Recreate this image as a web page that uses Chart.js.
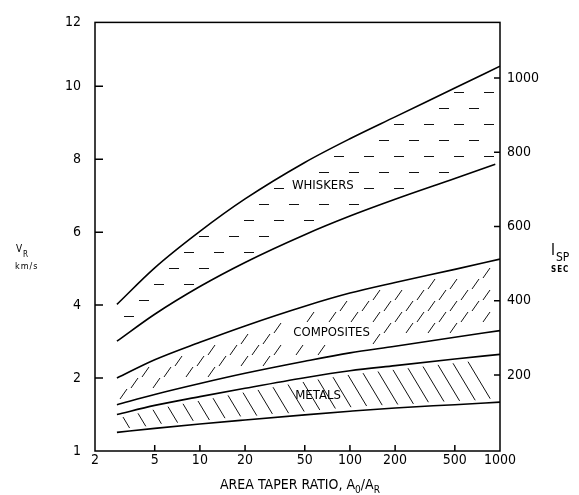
<!DOCTYPE html>
<html>
<head>
<meta charset="utf-8">
<script src="https://cdn.jsdelivr.net/npm/chart.js@4.4.1/dist/chart.umd.min.js"></script>
<style>
  html, body { margin: 0; padding: 0; background: #fff; }
  #wrap { width: 579px; height: 495px; }
</style>
</head>
<body>
<div id="wrap"><canvas id="taper" width="579" height="495"></canvas></div>
<script>
// area taper ratio A0/AR where the band edges were read
const taperRatio = [2.8, 5, 10, 20, 50, 100, 200, 500, 1000];
const whiskersRatio = [2.8, 5, 10, 20, 50, 100, 200, 500, 930]; // lower whisker edge stops short

// V_R in km/s
const whiskersTop = [4.02, 5.02, 6.02, 6.91, 7.91, 8.56, 9.16, 9.95, 10.55];
const whiskersBottom = [3.01, 3.75, 4.51, 5.17, 5.93, 6.44, 6.90, 7.47, 7.86];
const compositesTop = [2.00, 2.50, 2.98, 3.43, 3.97, 4.33, 4.62, 4.98, 5.26];
const compositesBottom = [1.27, 1.55, 1.85, 2.13, 2.46, 2.69, 2.87, 3.12, 3.30];
const metalsTop = [1.00, 1.25, 1.49, 1.72, 2.01, 2.20, 2.34, 2.52, 2.65];
const metalsBottom = [0.51, 0.62, 0.74, 0.85, 0.99, 1.09, 1.18, 1.27, 1.34];

// band names and where they are written (ratio, km/s)
const bandNames = ["WHISKERS", "COMPOSITES", "METALS"];
const bandLabelAt = [[66, 7.27], [75.5, 3.24], [61.3, 1.52]];

// axes
const xTicks = [2, 5, 10, 20, 50, 100, 200, 500, 1000];
const vTicks = [2, 4, 6, 8, 10];
const vRange = [0, 11.75];
const vEndLabels = ["1", "12"];
const ispTicks = [200, 400, 600, 800, 1000];
const ispRange = [-5, 1150];

const FONT = '"Liberation Sans Narrow", "DejaVu Sans Condensed", "Liberation Sans", sans-serif';
const tickFont = { family: FONT, size: 14 };

// =======================
// HELPERS
// =======================
const edgeSet = (label, xs, ys) => ({
  label,
  data: xs.map((x, i) => ({ x, y: ys[i] })),
  borderColor: "#000",
  borderWidth: 1.6,
  pointRadius: 0,
  cubicInterpolationMode: "monotone",
  fill: false,
  yAxisID: "y"
});

function edgeY(chart, index, px) {
  const p = chart.getDatasetMeta(index).dataset.interpolate({ x: px }, "x");
  return p && !Array.isArray(p) ? p.y : null;
}

function inBox(box, x, y) {
  return x > box.l && x < box.r && y > box.t && y < box.b;
}

function labelBoxes(chart) {
  const ctx = chart.ctx;
  ctx.save();
  ctx.font = "13px " + FONT;
  const boxes = bandNames.map((name, i) => {
    const cx = chart.scales.x.getPixelForValue(bandLabelAt[i][0]);
    const cy = chart.scales.y.getPixelForValue(bandLabelAt[i][1]);
    const w = ctx.measureText(name).width;
    return { l: cx - w / 2 - 7, r: cx + w / 2 + 7, t: cy - 9, b: cy + 9, cx, cy };
  });
  ctx.restore();
  return boxes;
}

// =======================
// PLUGINS
// =======================
const hatchPlugin = {
  id: "hatch",
  afterDatasetsDraw(chart) {
    const ctx = chart.ctx;
    const boxes = labelBoxes(chart);
    ctx.save();
    ctx.strokeStyle = "#111";
    ctx.lineWidth = 1;
    ctx.beginPath();

    // whiskers: short horizontal dashes
    let row = 0;
    for (let py = 60.5; py < 350; py += 16, row++) {
      for (let px = 124 + (row % 2) * 15; px < 492; px += 30) {
        const len = 10;
        const e = [edgeY(chart, 0, px), edgeY(chart, 0, px + len), edgeY(chart, 1, px), edgeY(chart, 1, px + len)];
        if (e.some(v => v == null)) continue;
        if (py < Math.max(e[0], e[1]) + 4 || py > Math.min(e[2], e[3]) - 4) continue;
        if (inBox(boxes[0], px, py) || inBox(boxes[0], px + len, py)) continue;
        ctx.moveTo(px, py);
        ctx.lineTo(px + len, py);
      }
    }

    // composites: short "/" strokes
    row = 0;
    for (let py = 240; py < 410; py += 11, row++) {
      for (let px = 120 + (row % 2) * 11; px < 495; px += 22) {
        const x0 = px, y0 = py + 5, x1 = px + 7, y1 = py - 5;
        const t0 = edgeY(chart, 2, x0), t1 = edgeY(chart, 2, x1);
        const b0 = edgeY(chart, 3, x0), b1 = edgeY(chart, 3, x1);
        if ([t0, t1, b0, b1].some(v => v == null)) continue;
        if (y1 < t1 + 3 || y0 > b0 - 3) continue;
        if (inBox(boxes[1], x0, y0) || inBox(boxes[1], x1, y1)) continue;
        ctx.moveTo(x0, y0);
        ctx.lineTo(x1, y1);
      }
    }

    // metals: "\" strokes across the band
    for (let px = 123; px < 495; px += 15) {
      const top = edgeY(chart, 4, px);
      if (top == null) continue;
      const y0 = top + 4;
      let dy = 8;
      // grow the stroke until it reaches the lower edge
      while (true) {
        const b = edgeY(chart, 5, px + dy * 0.6);
        if (b == null || y0 + dy + 1 > b - 3) break;
        dy += 1;
      }
      const x1 = px + dy * 0.6;
      if (x1 > 498) continue;
      if (inBox(boxes[2], px, y0) || inBox(boxes[2], x1, y0 + dy)) continue;
      ctx.moveTo(px, y0);
      ctx.lineTo(x1, y0 + dy);
    }
    ctx.stroke();
    ctx.restore();
  }
};

const framePlugin = {
  id: "frame",
  afterDraw(chart) {
    const ctx = chart.ctx;
    const a = chart.chartArea;
    const { x, y, y2 } = chart.scales;
    ctx.save();
    ctx.strokeStyle = "#000";
    ctx.lineWidth = 1.5;
    ctx.strokeRect(a.left, a.top, a.right - a.left, a.bottom - a.top);

    // inward tick marks
    ctx.beginPath();
    xTicks.slice(1, -1).forEach(v => {
      const px = x.getPixelForValue(v);
      ctx.moveTo(px, a.bottom);
      ctx.lineTo(px, a.bottom - 6);
    });
    vTicks.forEach(v => {
      const py = y.getPixelForValue(v);
      ctx.moveTo(a.left, py);
      ctx.lineTo(a.left + 8, py);
    });
    ispTicks.forEach(v => {
      const py = y2.getPixelForValue(v);
      ctx.moveTo(a.right, py);
      ctx.lineTo(a.right - 6, py);
    });
    ctx.stroke();

    // band names
    const boxes = labelBoxes(chart);
    ctx.fillStyle = "#000";
    ctx.font = "13px " + FONT;
    ctx.textAlign = "center";
    ctx.textBaseline = "middle";
    bandNames.forEach((name, i) => ctx.fillText(name, boxes[i].cx, boxes[i].cy));

    // axis titles with subscripts
    ctx.textAlign = "left";
    ctx.textBaseline = "alphabetic";
    const parts = [
      ["AREA TAPER RATIO, A", 14, 0],
      ["0", 10, 4],
      ["/A", 14, 0],
      ["R", 10, 4]
    ];
    let tx = 220;
    parts.forEach(([t, size, dy]) => {
      ctx.font = size + "px " + FONT;
      ctx.fillText(t, tx, 489 + dy);
      tx += ctx.measureText(t).width;
    });

    ctx.font = "10px " + FONT;
    ctx.fillText("V", 16, 252);
    ctx.font = "8px " + FONT;
    ctx.fillText("R", 23, 257);
    ctx.font = "9px " + FONT;
    ctx.letterSpacing = "1px";
    ctx.fillText("km/s", 15, 269);

    ctx.letterSpacing = "0px";
    ctx.font = "15px " + FONT;
    ctx.fillText("I", 551, 255);
    ctx.font = "12px " + FONT;
    ctx.fillText("SP", 556, 261);
    ctx.font = "bold 8px " + FONT;
    ctx.letterSpacing = "1px";
    ctx.fillText("SEC", 551, 272);
    ctx.restore();
  }
};

// =======================
// CHART
// =======================
new Chart(document.getElementById("taper"), {
  type: "line",
  data: {
    datasets: [
      edgeSet("Whiskers upper", taperRatio, whiskersTop),
      edgeSet("Whiskers lower", whiskersRatio, whiskersBottom),
      edgeSet("Composites upper", taperRatio, compositesTop),
      edgeSet("Composites lower", taperRatio, compositesBottom),
      edgeSet("Metals upper", taperRatio, metalsTop),
      edgeSet("Metals lower", taperRatio, metalsBottom)
    ]
  },
  options: {
    responsive: false,
    animation: false,
    layout: { padding: { top: 19, left: 0, right: 0, bottom: 0 } },
    plugins: { legend: { display: false }, tooltip: { enabled: false } },
    scales: {
      x: {
        type: "logarithmic",
        min: xTicks[0],
        max: xTicks[xTicks.length - 1],
        grid: { display: false, drawTicks: false },
        border: { display: false },
        afterBuildTicks: s => { s.ticks = xTicks.map(v => ({ value: v })); },
        afterFit: s => { s.height = 44; },
        ticks: { autoSkip: false, maxRotation: 0, padding: 1, color: "#000", font: tickFont, callback: v => String(v) }
      },
      y: {
        type: "linear",
        position: "left",
        min: vRange[0],
        max: vRange[1],
        grid: { display: false, drawTicks: false },
        border: { display: false },
        afterBuildTicks: s => { s.ticks = [vRange[0], ...vTicks, vRange[1]].map(v => ({ value: v })); },
        afterFit: s => { s.width = 95; },
        ticks: {
          padding: 14, color: "#000", font: tickFont,
          callback: v => v === vRange[0] ? vEndLabels[0] : v === vRange[1] ? vEndLabels[1] : String(v)
        }
      },
      y2: {
        type: "linear",
        position: "right",
        min: ispRange[0],
        max: ispRange[1],
        grid: { display: false, drawTicks: false },
        border: { display: false },
        afterBuildTicks: s => { s.ticks = ispTicks.map(v => ({ value: v })); },
        afterFit: s => { s.width = 79; },
        ticks: { padding: 7, color: "#000", font: tickFont, callback: v => String(v) }
      }
    }
  },
  plugins: [hatchPlugin, framePlugin]
});
</script>
</body>
</html>
